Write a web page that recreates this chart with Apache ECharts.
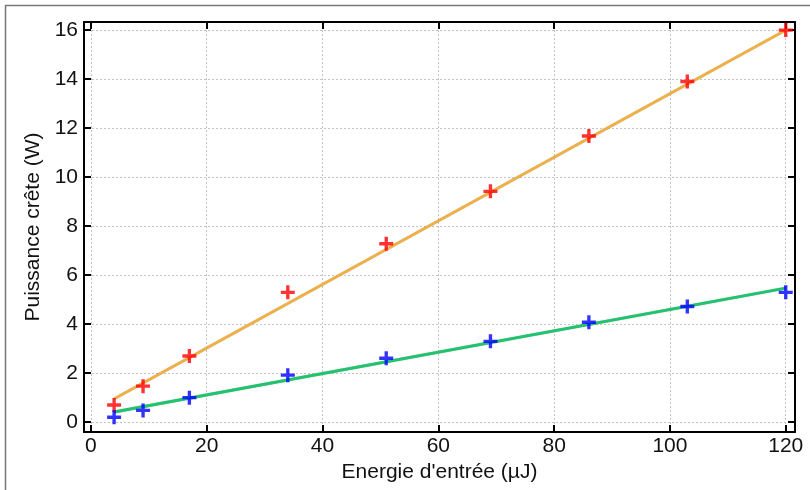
<!DOCTYPE html>
<html>
<head>
<meta charset="utf-8">
<script src="https://cdn.jsdelivr.net/npm/echarts@6/dist/echarts.min.js"></script>
<style>html,body{margin:0;padding:0;background:#fff}#c{width:810px;height:490px}</style>
</head>
<body>
<div id="c"></div>
<script>
const energy = [4, 9, 17, 34, 51, 69, 86, 103, 120];
const redPower = [0.7, 1.47, 2.7, 5.3, 7.28, 9.42, 11.68, 13.9, 16.0];
const bluePower = [0.2, 0.48, 1.0, 1.92, 2.61, 3.3, 4.08, 4.72, 5.3];
const redFitX = [4, 120];
const redFitY = [0.95, 16.0];
const blueFitX = [4, 120];
const blueFitY = [0.42, 5.47];
const xTicks = [0, 20, 40, 60, 80, 100, 120];
const yTicks = [0, 2, 4, 6, 8, 10, 12, 14, 16];

const pair = (xs, ys) => xs.map((x, i) => [x, ys[i]]);
const plus = 'path://M3.8,0H6.2V3.8H10V6.2H6.2V10H3.8V6.2H0V3.8H3.8Z';
const font = 'Liberation Sans, Arial, sans-serif';
const fs = 21;

function xAx(pos, show) {
  return {
    type: 'value', position: pos, min: -1.2, max: 121.6,
    axisLine: {show: true, onZero: false, lineStyle: {color: '#000', width: 2}},
    axisTick: {show: true, inside: true, length: 7, lineStyle: {color: '#000', width: 2}, customValues: xTicks},
    axisLabel: {show: show, customValues: xTicks, color: '#111', fontSize: fs, fontFamily: font, margin: 4},
    splitLine: {show: show, lineStyle: {color: '#c4c4c4', type: [2, 2], width: 1}},
    name: show ? "Energie d'entrée (µJ)" : '', nameLocation: 'middle', nameGap: 27,
    nameTextStyle: {color: '#111', fontSize: fs, fontFamily: font}
  };
}
function yAx(pos, show) {
  return {
    type: 'value', position: pos, min: -0.4, max: 16.33,
    axisLine: {show: true, onZero: false, lineStyle: {color: '#000', width: 2}},
    axisTick: {show: true, inside: true, length: 7, lineStyle: {color: '#000', width: 2}, customValues: yTicks},
    axisLabel: {show: show, customValues: yTicks, color: '#111', fontSize: fs, fontFamily: font, margin: 6},
    splitLine: {show: show, lineStyle: {color: '#c4c4c4', type: [2, 2], width: 1}},
    name: show ? 'Puissance crête (W)' : '', nameLocation: 'middle', nameGap: 38,
    nameTextStyle: {color: '#111', fontSize: fs, fontFamily: font}
  };
}

const chart = echarts.init(document.getElementById('c'));
chart.setOption({
  animation: false,
  backgroundColor: '#fff',
  grid: {left: 84, top: 22, right: 15, bottom: 58},
  xAxis: [xAx('bottom', true), xAx('top', false)],
  yAxis: [yAx('left', true), yAx('right', false)],
  graphic: [
    {type: 'line', shape: {x1: 5, y1: 5.5, x2: 810, y2: 5.5}, style: {stroke: '#777', lineWidth: 1.5}},
    {type: 'line', shape: {x1: 5.5, y1: 5, x2: 5.5, y2: 490}, style: {stroke: '#777', lineWidth: 1.5}}
  ],
  series: [
    {type: 'line', data: pair(redFitX, redFitY), symbol: 'none', lineStyle: {color: '#f3b03c', width: 2.5, shadowColor: 'rgba(0,0,0,0.35)', shadowBlur: 1}, z: 2},
    {type: 'line', data: pair(blueFitX, blueFitY), symbol: 'none', lineStyle: {color: '#1ec46e', width: 3, shadowColor: 'rgba(0,0,0,0.3)', shadowBlur: 1}, z: 2},
    {type: 'scatter', data: pair(energy, redPower), symbol: plus, symbolSize: 14, itemStyle: {color: '#ff0000'}, z: 3},
    {type: 'scatter', data: pair(energy, bluePower), symbol: plus, symbolSize: 14, itemStyle: {color: '#0000ff'}, z: 3}
  ]
});
</script>
</body>
</html>
